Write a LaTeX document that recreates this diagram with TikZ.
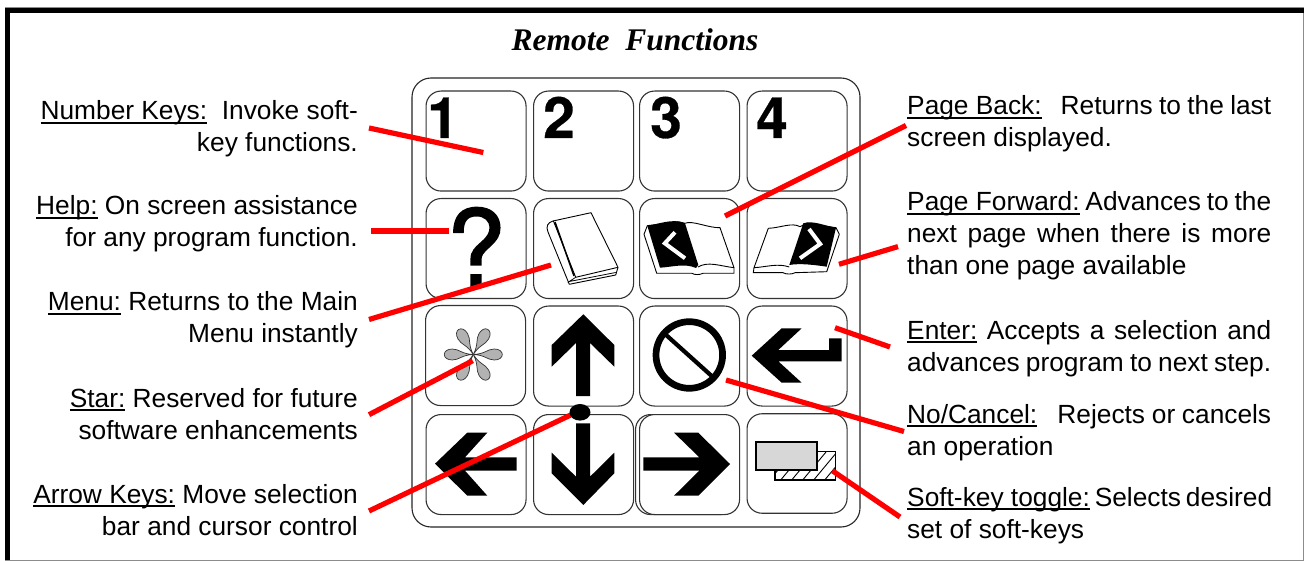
\documentclass[tikz,border=0pt]{standalone}
\usepackage{fontspec}
\usetikzlibrary{patterns}
\setmainfont{Liberation Sans}
\newfontfamily\titlefont{Liberation Serif}
\newfontfamily\digitfont[BoldFeatures={FakeBold=.5}]{TeX Gyre Heros}
\newfontfamily\qfont[FakeBold=1.5]{TeX Gyre Heros}
\definecolor{redline}{RGB}{255,0,0}
\definecolor{softgray}{RGB}{215,215,215}
\definecolor{stargray}{RGB}{178,178,178}
\newcommand{\lb}[1]{\setbox0\hbox{#1}\rlap{\rule[-3.6pt]{\wd0}{1.4pt}}\box0\relax}
\newcommand{\jl}[1]{\hbox to 364pt{#1}}
\tikzset{x=1pt,y=-1pt,
  txtl/.style={anchor=base east,inner sep=0pt,font=\fontsize{26.3}{30}\selectfont},
  txtr/.style={anchor=base west,inner sep=0pt,font=\fontsize{26.3}{30}\selectfont},
  keybox/.style={draw=black!80!white,line width=1.1pt,rounded corners=15pt,minimum width=100pt,minimum height=100pt,inner sep=0pt,anchor=north west},
  digit/.style={inner sep=0pt,anchor=base,font=\fontsize{57}{57}\digitfont\bfseries},
  pointer/.style={draw=redline,line width=5.2pt},
  ink/.style={fill=black,draw=none},
  thinline/.style={draw=black,line width=.9pt,fill=white,line join=round}
}
\begin{document}
\begin{tikzpicture}
\useasboundingbox (0,0) rectangle (1304,561);
\fill[white] (0,0) rectangle (1304,561);
\draw[draw=black!45!white,line width=1pt] (5,8) rectangle (1303,560);
\fill[black] (5,8) rectangle (1304,13);
\fill[black] (5,8) rectangle (10,560);
\node[inner sep=0pt,anchor=base,font=\fontsize{31.5}{32}\titlefont\bfseries\itshape] (title) at (635,51) {Remote\ \ Functions};
\draw[line width=1.1pt,draw=black!85!white,rounded corners=19pt] (412,78) rectangle (860,527);
% keys
\node[keybox] (k1) at (425.5,90.5) {};
\node[keybox] (k2) at (533,90.5) {};
\node[keybox] (k3) at (639,90.5) {};
\node[keybox] (k4) at (746.5,90.5) {};
\node[keybox] (k5) at (425.5,198) {};
\node[keybox] (k6) at (533,198) {};
\node[keybox] (k7) at (639,198) {};
\node[keybox] (k8) at (746.5,198) {};
\node[keybox] (k9) at (425,305) {};
\node[keybox] (k10) at (533,305.5) {};
\node[keybox] (k11) at (639,305.5) {};
\node[keybox] (k12) at (746.5,305.5) {};
\node[keybox] (k13) at (425.5,414) {};
\node[keybox] (k14) at (533,414) {};
\node[keybox] (k15b) at (635,414) {};
\node[keybox,fill=white] (k15) at (639,414) {};
\node[keybox,minimum height=99.5pt] (k16) at (746.5,413.2) {};
% digits
\node[digit] (d1) at (443,138) {1};
\node[digit] (d2) at (559,138) {2};
\node[digit] (d3) at (666,138) {3};
\node[digit] (d4) at (772,138) {4};
% question mark
\node[inner sep=0pt,anchor=base,font=\fontsize{106}{106}\qfont] (q) at (476,286) {?};
% closed book
\draw[thinline] (553,221) -- (591,212.7) -- (618,267.3) -- (615.7,275) -- (569.3,284.3) -- (548,232) .. controls (545.5,226) and (548,222.5) .. (553,221);
\draw[thinline] (553.3,220.7) -- (575.7,277.3) -- (618,267.3);
\draw[line width=1.5pt] (555,222) -- (574,276);
\draw[line width=.8pt] (575.7,277.3) -- (569.3,281.5) -- (615.7,272.5);
% open book left
\draw[thinline] (644,234.3) -- (647.3,225.7) -- (678.3,221.7) -- (685,223.3) .. controls (692,220) and (708,228) .. (720,227.7) -- (734,267.7) -- (734,273.3) -- (703,273.3) .. controls (700,275) and (694,275) .. (692,273.3) -- (656.7,273.3) -- cycle;
\fill[black] (647.3,225.7) .. controls (660,224) and (672,218) .. (685,223.3) -- (698.3,265) -- (696,268) .. controls (685,263) and (672,267) .. (660,267.7) -- cycle;
\draw[line width=.9pt] (698,267) .. controls (708,261) and (720,266) .. (734,267.7);
\draw[white,line width=4pt] (675,232.3) -- (664.8,243.3) -- (685,258.3);
% open book right
\draw[thinline] (839.3,234.3) -- (836,227.7) -- (806.7,223.3) -- (800,226.7) .. controls (792,222) and (780,228) .. (768.3,228.3) -- (754,267.7) -- (753.3,272.7) -- (783,272.7) .. controls (786,274.5) and (792,274.5) .. (795,272.7) -- (826.7,271.7) -- cycle;
\fill[black] (836,227.7) .. controls (825,226) and (813,220) .. (803.3,223.3) -- (789.3,265) .. controls (800,263) and (815,265) .. (826.7,266.7) -- cycle;
\draw[line width=.9pt] (789.3,267) .. controls (778,263) and (766,267) .. (754,267.7);
\draw[white,line width=4pt] (809,229) -- (820.2,244) -- (800,258.3);
% star
\begin{scope}[shift={(473.3,354.5)}]
\foreach \a in {0,60,120,180,240,300}{
  \draw[rotate=\a,fill=stargray,draw=black!80!white,line width=.7pt] (0,0) .. controls (12,-.5) and (14,-5.5) .. (21,-5.5) .. controls (26,-5.5) and (29,-3) .. (29,0) .. controls (29,3) and (26,5.5) .. (21,5.5) .. controls (14,5.5) and (12,.5) .. (0,0) -- cycle;
}
\end{scope}
% arrow up
\fill[ink] (583.3,314.3) -- (614.3,345) -- (614.3,366.7) -- (590,343) -- (590,396) -- (576,396) -- (576,343) -- (551.7,366.7) -- (551.7,345) -- cycle;
% arrow left
\fill[ink] (435,463.7) -- (467.3,432.7) -- (487.3,432.7) -- (465,457.3) -- (516.7,457.3) -- (516.7,470.7) -- (465,470.7) -- (487.3,495.7) -- (467.3,495.7) -- cycle;
% arrow down
\fill[ink] (583.3,505) -- (551.7,473.3) -- (551.7,452.7) -- (576,476.7) -- (576,423.3) -- (590,423.3) -- (590,476.7) -- (614.3,452.7) -- (614.3,473.3) -- cycle;
% arrow right
\fill[ink] (730,464) -- (698.3,432.7) -- (674,432.7) -- (699.3,457.3) -- (643.3,457.3) -- (643.3,470.7) -- (699.3,470.7) -- (674,495.7) -- (698.3,495.7) -- cycle;
% no sign
\draw[line width=6.7pt] (689.3,355) circle (33.3);
\draw[line width=4.2pt] (665,334) -- (715,379);
% enter
\fill[ink] (751.7,355.7) -- (781.7,328.3) -- (801.7,328.3) -- (778.3,350) -- (829,350) -- (829,338.3) -- (841.7,338.3) -- (841.7,361.3) -- (778.3,361.3) -- (801.7,382.7) -- (781.7,382.7) -- cycle;
% soft-key toggle
\draw[line width=1.4pt,fill=white] (775,451.7) rectangle (835.7,480);
\begin{scope}
\clip (775,451.7) rectangle (835.7,480);
\foreach \i in {0,...,8}{\draw[line width=.9pt] (768+\i*11,482) -- (768+\i*11+25,452);}
\end{scope}
\draw[line width=1.7pt,fill=softgray] (755.7,441.7) rectangle (816.7,470);
% text left
\node[txtl] (t1) at (358,120) {\lb{Number Keys:}\ \ Invoke soft-};
\node[txtl] (t1b) at (358,152) {key functions.};
\node[txtl] (t2) at (358,215) {\lb{Help:}\ On screen assistance};
\node[txtl] (t2b) at (358,247) {for any program function.};
\node[txtl] (t3) at (358,311) {\lb{Menu:}\ Returns to the Main};
\node[txtl] (t3b) at (358,343) {Menu instantly};
\node[txtl] (t4) at (358,407) {\lb{Star:}\ Reserved for future};
\node[txtl] (t4b) at (358,439) {software enhancements};
\node[txtl] (t5) at (358,503) {\lb{Arrow Keys:}\ Move selection};
\node[txtl] (t5b) at (358,535) {bar and cursor control};
% text right
\node[txtr] (r1) at (907,115) {\jl{\lb{Page Back:}\ \ \ Returns to the last}};
\node[txtr] (r1b) at (907,147) {screen displayed.};
\node[txtr] (r2) at (907,211) {\jl{\lb{Page Forward:}\ Advances to the}};
\node[txtr] (r2b) at (907,243) {\jl{next page when there is more}};
\node[txtr] (r2c) at (907,275) {than one page available};
\node[txtr] (r3) at (907,339) {\jl{\lb{Enter:}\ Accepts a selection and}};
\node[txtr] (r3b) at (907,371) {\jl{advances program to next step.}};
\node[txtr] (r4) at (907,423) {\jl{\lb{No/Cancel:}\ \ \ Rejects or cancels}};
\node[txtr] (r4b) at (907,455) {an operation};
\node[txtr] (r5) at (907,506) {\jl{\lb{Soft-key toggle:}\ Selects desired}};
\node[txtr] (r5b) at (907,538) {set of soft-keys};
% connector ends
\coordinate (a1) at (369,128); \coordinate (b1) at (483.3,152.5);
\coordinate (a2) at (371,231); \coordinate (b2) at (449.3,231);
\coordinate (a3) at (369,319.5); \coordinate (b3) at (551,265);
\coordinate (a4) at (369,414.7); \coordinate (b4) at (472.7,360.7);
\coordinate (a5) at (369,511); \coordinate (b5) at (578,411.5);
\coordinate (a6) at (906,125.5); \coordinate (b6) at (725,216);
\coordinate (a7) at (898,246.6); \coordinate (b7) at (839,264.3);
\coordinate (a8) at (890,347); \coordinate (b8) at (835,327.7);
\coordinate (a9) at (904,431.5); \coordinate (b9) at (726,380);
\coordinate (a10) at (900,517); \coordinate (b10) at (832.3,470.7);
\foreach \i in {1,...,10}{\draw[pointer] (a\i) -- (b\i);}
\fill[ink] (580,412.3) ellipse [x radius=10.5,y radius=8.3];
\end{tikzpicture}
\end{document}
